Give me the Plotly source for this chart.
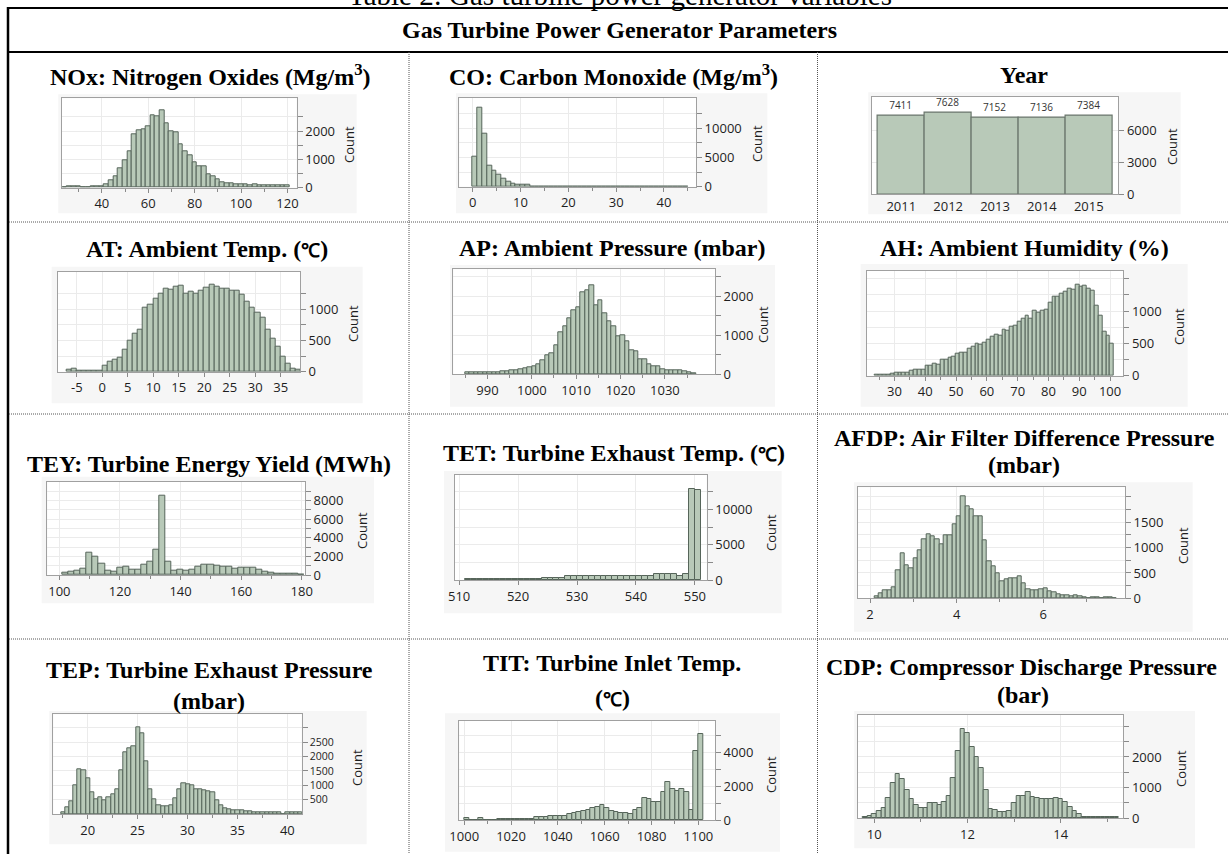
import plotly.graph_objects as go

# ---------------- data ----------------
NOX_START, NOX_WIDTH = 23, 2
NOX_COUNTS = [0, 50, 50, 50, 0, 0, 40, 40, 60, 130, 250, 420, 680, 970, 1270, 1890, 2030, 2070,
              2150, 2560, 2530, 2720, 2280, 1980, 1940, 1540, 1270, 1130, 880, 770, 740, 480, 390,
              280, 200, 170, 140, 120, 120, 110, 100, 130, 100, 90, 90, 90, 80, 80, 70]

CO_START, CO_WIDTH = 0, 1
CO_COUNTS = [5100, 13400, 8970, 3580, 2670, 1990, 1420, 800, 570, 420, 400, 380, 80, 60, 50, 50,
             45, 40, 40, 35, 30, 0, 30, 30, 30, 30, 30, 30, 30, 30, 30, 30, 30, 30, 30, 30, 30, 0,
             0, 30, 30, 0, 30, 0, 30]

YEARS = [2011, 2012, 2013, 2014, 2015]
YEAR_COUNTS = [7411, 7628, 7152, 7136, 7384]

AT_START, AT_WIDTH = -7, 1
AT_COUNTS = [37, 53, 16, 16, 16, 16, 16, 96, 160, 186, 229, 346, 490, 612, 665, 1027, 1064, 1160,
             1240, 1330, 1303, 1357, 1367, 1240, 1277, 1240, 1293, 1346, 1383, 1357, 1330, 1330,
             1287, 1287, 1224, 1117, 1027, 942, 867, 665, 532, 399, 239, 122, 53, 27]

AP_START, AP_WIDTH = 985, 1
AP_COUNTS = [43, 43, 43, 43, 43, 43, 43, 43, 68, 68, 94, 110, 128, 154, 170, 197, 265, 368, 496,
             539, 752, 1069, 1223, 1436, 1650, 1720, 2095, 2146, 2290, 1760, 1900, 1560, 1350,
             1220, 980, 1010, 840, 625, 580, 385, 385, 265, 214, 197, 137, 111, 94, 94, 111, 68,
             43, 26]

AH_START, AH_WIDTH = 23.75, 1.25
AH_COUNTS = [20, 20, 20, 20, 25, 40, 45, 45, 50, 70, 90, 95, 100, 150, 160, 190, 175, 240, 250,
             285, 300, 345, 350, 355, 420, 450, 490, 480, 515, 560, 600, 640, 620, 710, 690, 760,
             770, 830, 880, 930, 880, 1000, 980, 1000, 1020, 1130, 1220, 1220, 1260, 1300, 1350,
             1330, 1410, 1380, 1390, 1340, 1320, 1080, 930, 680, 620, 500]

TEY_START, TEY_WIDTH = 101, 2
TEY_COUNTS = [290, 360, 420, 640, 2350, 1950, 1200, 480, 370, 750, 930, 540, 540, 1070, 1460,
              2710, 8530, 1460, 500, 520, 480, 520, 930, 1070, 1070, 1000, 930, 900, 714, 750,
              785, 785, 600, 400, 285, 150, 100, 100, 100, 80]

TET_START, TET_WIDTH = 511, 1
TET_COUNTS = [140, 140, 140, 140, 140, 140, 140, 140, 140, 140, 140, 140, 140, 330, 330, 330,
              330, 610, 610, 610, 610, 610, 610, 610, 610, 610, 610, 610, 610, 610, 610, 610,
              800, 800, 800, 800, 560, 850, 12890, 12700]

AFDP_START, AFDP_WIDTH = 2.1, 0.1
AFDP_COUNTS = [33, 99, 151, 164, 210, 546, 888, 658, 592, 790,
               941, 1171, 1263, 1230, 1165, 1072, 1250, 1250, 1467, 1625,
               2020, 1810, 1757, 1612, 1612, 1151, 724, 625, 493, 329,
               375, 395, 395, 428, 296, 184, 164, 164, 184, 197,
               132, 112, 86, 59, 53, 40, 53, 33, 26, 0,
               20, 20, 0, 20, 20, 0]

TEP_START, TEP_WIDTH = 17.33, 0.4167
TEP_COUNTS = [47, 233, 430, 1012, 1558, 1535, 1244, 756, 523, 570, 488, 570, 686, 872, 1512,
              2152, 2291, 2349, 3024, 2803, 1826, 872, 512, 314, 279, 279, 314, 547, 872, 1070,
              1035, 989, 872, 849, 837, 802, 756, 488, 314, 198, 163, 140, 116, 116, 105, 81, 58,
              47, 47, 47, 47, 47, 47, 0, 47, 47, 47, 58, 58]

TIT_START, TIT_WIDTH = 1000, 2
TIT_COUNTS = [119, 0, 0, 119, 0, 0, 0, 60, 60, 60, 60, 60, 60, 60, 60, 160, 160, 160, 240, 240,
              240, 240, 340, 435, 495, 535, 594, 693, 792, 890, 732, 535, 495, 435, 435, 356, 594,
              732, 1287, 1228, 1089, 1089, 1683, 2237, 1841, 1722, 1841, 1683, 594, 4100, 5100]

CDP_START, CDP_WIDTH = 9.75, 0.1
CDP_COUNTS = [33, 76, 141, 239, 348, 674, 1141, 1457, 1283, 924,
              630, 435, 326, 348, 489, 489, 435, 543, 739, 1304,
              2196, 2902, 2772, 2337, 2011, 1630, 924, 304, 272, 217,
              217, 239, 489, 728, 739, 848, 707, 674, 620, 620,
              630, 652, 630, 543, 380, 239, 130, 54, 33, 33,
              33, 33, 33, 33, 33]

# ---------------- styling ----------------
W, H = 1228, 854
FILL = '#b8c9b8'
EDGE = '#56655a'
PANEL_BG = '#f6f6f6'
AXIS_LINE = '#a0a0a0'
GRID = '#ebebeb'
TICK_FONT = dict(family='Open Sans, Noto Sans, sans-serif', size=13, color='#1e1e1e')
TITLE_FONT = dict(family='Liberation Serif, Times New Roman, serif', size=24, color='black')
DEG_C = '<span style="font-size:19px">℃</span>'


def fx(px):
    return px / W


def fy(py):
    return 1 - py / H


panels = [
    dict(titles=[('NOx: Nitrogen Oxides (Mg/m<sup>3</sup>)', 210, 75)],
         box=(61.7, 98.3, 296.7, 187.7), bg=(58.3, 94.3, 356.7, 213.3),
         start=NOX_START, width=NOX_WIDTH, counts=NOX_COUNTS, xrange=[22.7, 124],
         xticks=[40, 60, 80, 100, 120], xminor=[30, 50, 70, 90, 110],
         yrange=[0, 3154], yticks=[0, 1000, 2000], yminor=[500, 1500, 2500], cpos=(349, 145)),
    dict(titles=[('CO: Carbon Monoxide (Mg/m<sup>3</sup>)', 613, 75)],
         box=(459.3, 97.7, 696, 186.7), bg=(456, 93.3, 767.3, 213.3),
         start=CO_START, width=CO_WIDTH, counts=CO_COUNTS, xrange=[-2.8, 46.7],
         xticks=[0, 10, 20, 30, 40], xminor=[5, 15, 25, 35, 45],
         yrange=[0, 15170], yticks=[0, 5000, 10000], yminor=[2500, 7500, 12500], cpos=(757, 144)),
    None,  # Year panel handled separately
    dict(titles=[('AT: Ambient Temp. (' + DEG_C + ')', 207, 249)],
         box=(57.7, 271.7, 300, 371.7), bg=(51.7, 266.7, 362.7, 403.3),
         start=AT_START, width=AT_WIDTH, counts=AT_COUNTS, xrange=[-8.74, 38.8],
         xticks=[-5, 0, 5, 10, 15, 20, 25, 30, 35], xminor=[],
         yrange=[0, 1596], yticks=[0, 500, 1000], yminor=[250, 750, 1250], cpos=(353, 324)),
    dict(titles=[('AP: Ambient Pressure (mbar)', 612, 248)],
         box=(453.3, 269.3, 715, 374.3), bg=(450, 265, 775, 406.7),
         start=AP_START, width=AP_WIDTH, counts=AP_COUNTS, xrange=[982.3, 1041.3],
         xticks=[990, 1000, 1010, 1020, 1030], xminor=[985, 995, 1005, 1015, 1025, 1035],
         yrange=[0, 2693], yticks=[0, 1000, 2000], yminor=[500, 1500, 2500], cpos=(763, 325)),
    dict(titles=[('AH: Ambient Humidity (%)', 1024, 248)],
         box=(866.7, 270.7, 1123.3, 375.7), bg=(860.7, 264, 1187.7, 406.7),
         start=AH_START, width=AH_WIDTH, counts=AH_COUNTS, xrange=[21.0, 104.3],
         xticks=[30, 40, 50, 60, 70, 80, 90, 100], xminor=[25, 35, 45, 55, 65, 75, 85, 95],
         yrange=[0, 1623], yticks=[0, 500, 1000], yminor=[250, 750, 1250, 1500], cpos=(1179, 327)),
    dict(titles=[('TEY: Turbine Energy Yield (MWh)', 209, 464)],
         box=(47.3, 481.7, 305, 575), bg=(41.7, 476.7, 374, 603.3),
         start=TEY_START, width=TEY_WIDTH, counts=TEY_COUNTS, xrange=[96.0, 181.1],
         xticks=[100, 120, 140, 160, 180], xminor=[110, 130, 150, 170],
         yrange=[0, 10030], yticks=[0, 2000, 4000, 6000, 8000],
         yminor=[1000, 3000, 5000, 7000, 9000], cpos=(362, 531)),
    dict(titles=[('TET: Turbine Exhaust Temp. (' + DEG_C + ')', 614, 453)],
         box=(455, 475, 706.7, 580), bg=(444, 471, 781.7, 613.3),
         start=TET_START, width=TET_WIDTH, counts=TET_COUNTS, xrange=[509.3, 552.0],
         xticks=[510, 520, 530, 540, 550], xminor=[],
         yrange=[0, 14870], yticks=[0, 5000, 10000], yminor=[2500, 7500, 12500], cpos=(771, 532)),
    dict(titles=[('AFDP: Air Filter Difference Pressure', 1024, 438), ('(mbar)', 1024, 465)],
         box=(857.7, 487.3, 1125, 598.3), bg=(854, 482.3, 1192.7, 631.7),
         start=AFDP_START, width=AFDP_WIDTH, counts=AFDP_COUNTS, xrange=[1.716, 7.886],
         xticks=[2, 4, 6], xminor=[3, 5, 7],
         yrange=[0, 2190], yticks=[0, 500, 1000, 1500], yminor=[250, 750, 1250, 1750, 2000],
         cpos=(1183, 546)),
    dict(titles=[('TEP: Turbine Exhaust Pressure', 209, 670), ('(mbar)', 209, 701)],
         box=(53.3, 714.3, 301.7, 814), bg=(49.3, 711, 366.7, 844.3),
         start=TEP_START, width=TEP_WIDTH, counts=TEP_COUNTS, xrange=[16.56, 41.44],
         xticks=[20, 25, 30, 35, 40], xminor=[17.5, 22.5, 27.5, 32.5, 37.5],
         yrange=[0, 3477], yticks=[500, 1000, 1500, 2000, 2500], yminor=[3000],
         cpos=(357, 768), yfont=10.5),
    dict(titles=[('TIT: Turbine Inlet Temp.', 612, 663), ('(' + DEG_C + ')', 612, 698)],
         box=(459.3, 721, 715, 820), bg=(445, 713.3, 780, 851.7),
         start=TIT_START, width=TIT_WIDTH, counts=TIT_COUNTS, xrange=[997.9, 1107.1],
         xticks=[1000, 1020, 1040, 1060, 1080, 1100], xminor=[1010, 1030, 1050, 1070, 1090],
         yrange=[0, 5880], yticks=[0, 2000, 4000], yminor=[1000, 3000, 5000], cpos=(771, 774)),
    dict(titles=[('CDP: Compressor Discharge Pressure', 1021, 667), ('(bar)', 1023, 695)],
         box=(857.7, 715, 1123.3, 818.3), bg=(854.3, 711, 1195, 848.3),
         start=CDP_START, width=CDP_WIDTH, counts=CDP_COUNTS, xrange=[9.644, 15.343],
         xticks=[10, 12, 14], xminor=[11, 13, 15],
         yrange=[0, 3370], yticks=[0, 1000, 2000], yminor=[500, 1500, 2500, 3000],
         cpos=(1181, 769)),
]

YEAR_PANEL = dict(titles=[('Year', 1024, 75)], box=(871.7, 96.7, 1118.3, 194.3),
                  bg=(868.3, 92.3, 1180.7, 214.3), xrange=[2010.37, 2015.63],
                  yrange=[0, 9150], yticks=[0, 3000, 6000], cpos=(1172, 147))

fig = go.Figure()
shapes = []
annotations = []
layout = {}


def rect(x0, y0, x1, y1, color):
    shapes.append(dict(type='rect', xref='paper', yref='paper', x0=fx(x0), x1=fx(x1),
                       y0=fy(y1), y1=fy(y0), fillcolor=color, line=dict(width=0), layer='below'))


def add_titles(p):
    for txt, cx, cy in p['titles']:
        annotations.append(dict(text='<b>' + txt + '</b>', x=fx(cx), y=fy(cy), xref='paper',
                                yref='paper', showarrow=False, xanchor='center',
                                yanchor='middle', font=TITLE_FONT))
    cx, cy = p['cpos']
    annotations.append(dict(text='Count', x=fx(cx), y=fy(cy), xref='paper', yref='paper',
                            showarrow=False, textangle=-90, xanchor='center', yanchor='middle',
                            font=TICK_FONT))


def axis_pair(i, p, xticks, xminor, yticks, yminor, yfont=13):
    b = p['box']
    xa = 'xaxis' if i == 1 else f'xaxis{i}'
    ya = 'yaxis' if i == 1 else f'yaxis{i}'
    layout[xa] = dict(domain=[fx(b[0]), fx(b[2])], range=p['xrange'], anchor=f'y{i}',
                      tickmode='array', tickvals=xticks, ticktext=[str(v) for v in xticks],
                      ticks='outside', ticklen=4, tickcolor='#8a8a8a', automargin=False,
                      showline=True, linecolor=AXIS_LINE, linewidth=1, mirror=True,
                      showgrid=True, gridcolor=GRID, zeroline=False, tickfont=TICK_FONT,
                      fixedrange=True,
                      minor=dict(tickmode='array', tickvals=xminor, ticks='outside', ticklen=3,
                                 tickcolor='#8a8a8a', showgrid=False))
    layout[ya] = dict(domain=[fy(b[3]), fy(b[1])], range=p['yrange'], anchor=f'x{i}',
                      side='right', tickmode='array', tickvals=yticks,
                      ticktext=[str(v) for v in yticks], ticks='outside', automargin=False,
                      ticklen=5, tickcolor='#8a8a8a', showline=True, linecolor=AXIS_LINE,
                      linewidth=1, mirror=True, showgrid=True, gridcolor=GRID, zeroline=False,
                      tickfont=dict(TICK_FONT, size=yfont), fixedrange=True,
                      minor=dict(tickmode='array', tickvals=yminor, ticks='outside', ticklen=5,
                                 tickcolor='#8a8a8a', showgrid=True, gridcolor=GRID))


for i, p in enumerate(panels, start=1):
    if p is None:
        p = YEAR_PANEL
        rect(*p['bg'], PANEL_BG)
        rect(*p['box'], 'white')
        add_titles(p)
        axis_pair(i, p, YEARS, [], p['yticks'], [])
        layout['xaxis3']['ticks'] = ''
        layout['xaxis3']['showgrid'] = False
        layout['xaxis3']['minor'] = dict(ticks='', showgrid=False)
        fig.add_trace(go.Bar(x=YEARS, y=YEAR_COUNTS, width=[1] * len(YEARS),
                             marker=dict(color=FILL, line=dict(color='#6b766d', width=1.2)),
                             text=[str(c) for c in YEAR_COUNTS], textposition='outside',
                             textfont=dict(family='Open Sans, sans-serif', size=10,
                                           color='#333333'),
                             cliponaxis=False, xaxis='x3', yaxis='y3', hoverinfo='skip',
                             showlegend=False))
        continue
    rect(*p['bg'], PANEL_BG)
    rect(*p['box'], 'white')
    add_titles(p)
    axis_pair(i, p, p['xticks'], p['xminor'], p['yticks'], p['yminor'], p.get('yfont', 13))
    centers = [p['start'] + p['width'] * (k + 0.5) for k in range(len(p['counts']))]
    fig.add_trace(go.Bar(x=centers, y=p['counts'], width=[p['width']] * len(centers),
                         marker=dict(color=FILL, line=dict(color=EDGE, width=1)),
                         xaxis='x' if i == 1 else f'x{i}', yaxis='y' if i == 1 else f'y{i}',
                         hoverinfo='skip', showlegend=False))


# ---------------- table frame ----------------
def line(x0, y0, x1, y1, width=1.0, color='black', dash=None):
    d = dict(type='line', xref='paper', yref='paper', x0=fx(x0), y0=fy(y0), x1=fx(x1),
             y1=fy(y1), line=dict(color=color, width=width), layer='above')
    if dash:
        d['line']['dash'] = dash
    shapes.append(d)


line(7, 8, 1228, 8, 2)
line(7, 52, 1228, 52, 2)
line(8, 7, 8, 854, 2.5)
for xv in (409, 817.5):
    line(xv, 52, xv, 854, 1, '#555555', '1px,1px')
for yv in (222, 414, 639):
    line(9, yv, 1228, yv, 1, '#555555', '1px,1px')

annotations.append(dict(text='<b>Gas Turbine Power Generator Parameters</b>', x=fx(619),
                        y=fy(30), xref='paper', yref='paper', showarrow=False,
                        xanchor='center', yanchor='middle', font=TITLE_FONT))
annotations.append(dict(text='Table 2: Gas turbine power generator variables', x=fx(620),
                        y=fy(-5), xref='paper', yref='paper', showarrow=False,
                        xanchor='center', yanchor='middle',
                        font=dict(family='Liberation Serif, serif', size=29, color='black')))

fig.update_layout(width=W, height=H,
                  margin=dict(l=0, r=0, t=0, b=0, pad=0, autoexpand=False),
                  paper_bgcolor='white', plot_bgcolor='white', shapes=shapes,
                  annotations=annotations, bargap=0, **layout)

fig.write_html("out.html", config={'displayModeBar': False},
               post_script="document.body.style.margin='0px';")
